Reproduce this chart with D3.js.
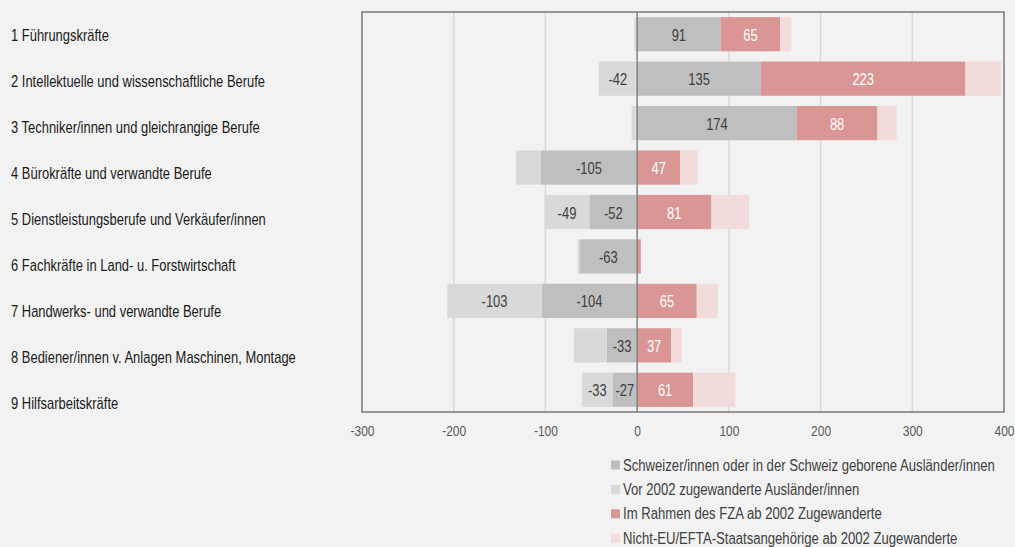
<!DOCTYPE html>
<html>
<head>
<meta charset="utf-8">
<script src="https://cdn.jsdelivr.net/npm/d3@7"></script>
<style>
  body { margin: 0; background: #f2f2f2; }
  svg { display: block; font-family: "Liberation Sans", Arial, sans-serif; }
</style>
</head>
<body>
<svg id="chart" width="1015" height="547"></svg>
<script>
// categories (top to bottom)
var categories = [
  '1 Führungskräfte',
  '2 Intellektuelle und wissenschaftliche Berufe',
  '3 Techniker/innen und gleichrangige Berufe',
  '4 Bürokräfte und verwandte Berufe',
  '5 Dienstleistungsberufe und Verkäufer/innen',
  '6 Fachkräfte in Land- u. Forstwirtschaft',
  '7 Handwerks- und verwandte Berufe',
  '8 Bediener/innen v. Anlagen Maschinen, Montage',
  '9 Hilfsarbeitskräfte'
];

// series values (in 1000)
var schweizer = [91, 135, 174, -105, -52, -63, -104, -33, -27];
var vor2002   = [-3, -42, -6, -27, -49, -2, -103, -36, -33];
var fza       = [65, 223, 88, 47, 81, 4, 65, 37, 61];
var nichtEU   = [12, 39, 21, 19, 41, 0, 23, 12, 46];

// which segments carry a value label
var labelSchweizer = [true, true, true, true, true, true, true, true, true];
var labelVor2002   = [false, true, false, false, true, false, true, false, true];
var labelFza       = [true, true, true, true, true, false, true, true, true];
var labelNichtEU   = [false, false, false, false, false, false, false, false, false];

var ticks = [-300, -200, -100, 0, 100, 200, 300, 400];

var seriesNames = [
  'Schweizer/innen oder in der Schweiz geborene Ausländer/innen',
  'Vor 2002 zugewanderte Ausländer/innen',
  'Im Rahmen des FZA ab 2002 Zugewanderte',
  'Nicht-EU/EFTA-Staatsangehörige ab 2002 Zugewanderte'
];
var seriesColors = ['#bfbfbf', '#d9d9d9', '#da9694', '#f2dcdb'];
var textColors = ['#404040', '#404040', '#ffffff', '#404040'];

var keys = ['schweizer', 'vor2002', 'fza', 'nichtEU'];
var labelFlags = [labelSchweizer, labelVor2002, labelFza, labelNichtEU];

// narrow look: squeeze text horizontally
var NARROW = 'scale(0.82,1)';

var rows = categories.map(function(c, i) {
  return { cat: c, schweizer: schweizer[i], vor2002: vor2002[i], fza: fza[i], nichtEU: nichtEU[i] };
});

var svg = d3.select('#chart');
var plot = { left: 362, right: 1004, top: 12, bottom: 412 };

var x = d3.scaleLinear().domain([-300, 400]).range([plot.left, plot.right]);
var y = d3.scaleBand().domain(categories).range([plot.top, plot.bottom]).paddingInner(0.23).paddingOuter(0.115);
// category labels sit on their own spacing in the original
var yLabel = d3.scalePoint().domain(categories).range([35, 403.3]);

// gridlines
svg.append('g').selectAll('line')
  .data(ticks.filter(function(t) { return t !== 0 && t !== -300 && t !== 400; }))
  .enter().append('line')
  .attr('x1', function(d) { return x(d); })
  .attr('x2', function(d) { return x(d); })
  .attr('y1', plot.top).attr('y2', plot.bottom)
  .attr('stroke', '#d9d9d9').attr('stroke-width', 1.5);

var stack = d3.stack().keys(keys).offset(d3.stackOffsetDiverging);
var layers = stack(rows);

var layerG = svg.append('g').selectAll('g')
  .data(layers)
  .enter().append('g')
  .attr('fill', function(d, i) { return seriesColors[i]; });

layerG.selectAll('rect')
  .data(function(d) { return d; })
  .enter().append('rect')
  .attr('x', function(d) { return x(Math.min(d[0], d[1])); })
  .attr('width', function(d) { return Math.abs(x(d[1]) - x(d[0])); })
  .attr('y', function(d) { return y(d.data.cat); })
  .attr('height', y.bandwidth());

// value labels
layers.forEach(function(layer, li) {
  svg.append('g').selectAll('g')
    .data(layer.filter(function(d, i) { return labelFlags[li][i]; }))
    .enter().append('g')
    .attr('transform', function(d) {
      return 'translate(' + x((d[0] + d[1]) / 2) + ',' + (y(d.data.cat) + y.bandwidth() / 2 + 1) + ')';
    })
    .append('text')
    .attr('transform', NARROW)
    .attr('dy', '0.35em')
    .attr('text-anchor', 'middle')
    .attr('font-size', 15.8)
    .attr('fill', textColors[li])
    .text(function(d) { return d.data[keys[li]]; });
});

// zero line
svg.append('line')
  .attr('x1', x(0)).attr('x2', x(0))
  .attr('y1', plot.top).attr('y2', plot.bottom)
  .attr('stroke', '#808080').attr('stroke-width', 1.5);

// frame
svg.append('rect')
  .attr('x', plot.left).attr('y', plot.top)
  .attr('width', plot.right - plot.left).attr('height', plot.bottom - plot.top)
  .attr('fill', 'none').attr('stroke', '#808080').attr('stroke-width', 1.6);

// x axis
var xAxis = svg.append('g')
  .attr('transform', 'translate(0,' + plot.bottom + ')')
  .call(d3.axisBottom(x).tickValues(ticks).tickSize(0).tickPadding(14).tickFormat(String));
xAxis.select('.domain').remove();
xAxis.selectAll('text')
  .attr('transform', NARROW)
  .attr('font-size', 14.6).attr('fill', '#595959')
  .attr('font-family', '"Liberation Sans", Arial, sans-serif');

// category labels
svg.append('g').selectAll('g')
  .data(categories)
  .enter().append('g')
  .attr('transform', function(d) { return 'translate(11,' + yLabel(d) + ')'; })
  .append('text')
  .attr('transform', NARROW)
  .attr('dy', '0.35em')
  .attr('font-size', 15.8)
  .attr('fill', '#1a1a1a')
  .text(function(d) { return d; });

// legend
var legend = svg.append('g').selectAll('g')
  .data(seriesNames)
  .enter().append('g')
  .attr('transform', function(d, i) { return 'translate(611,' + (465 + i * 24.4) + ')'; });
legend.append('rect')
  .attr('x', 0).attr('y', -4.5).attr('width', 9).attr('height', 9)
  .attr('fill', function(d, i) { return seriesColors[i]; });
legend.append('text')
  .attr('transform', 'translate(12,0) ' + NARROW)
  .attr('dy', '0.35em')
  .attr('font-size', 16)
  .attr('fill', '#404040')
  .text(function(d) { return d; });
</script>
</body>
</html>
